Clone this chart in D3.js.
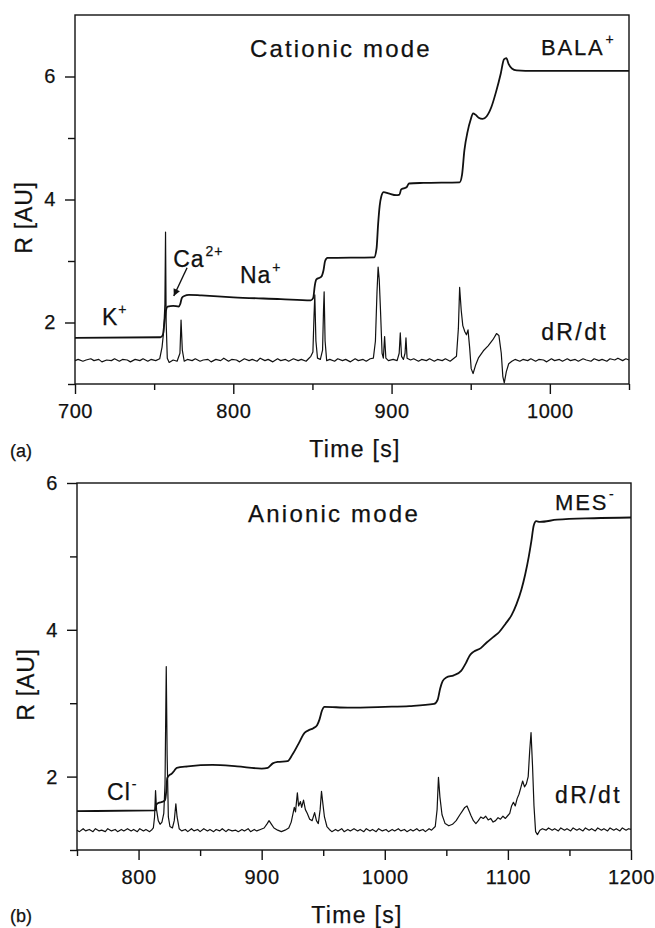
<!DOCTYPE html>
<html>
<head>
<meta charset="utf-8">
<script src="https://cdn.jsdelivr.net/npm/d3@7"></script>
<style>
  body { margin: 0; background: #fff; }
  svg { display: block; }
  text { font-family: "Liberation Sans", Arial, Helvetica, sans-serif; fill: #111; stroke: #111; stroke-width: 0.25px; }
</style>
</head>
<body>
<svg id="chart" width="655" height="928"></svg>
<script>
"use strict";

// ---- panel (a): cationic mode, [time s, R AU] ----
const cationR = [
  [700, 1.75], [754, 1.76], [755.5, 1.8], [756.5, 2.0], [757.5, 2.2], [758.5, 2.26], [762, 2.27], [765.5, 2.26],
  [766.5, 2.3], [767.5, 2.4], [769, 2.43], [772, 2.45], [780, 2.44], [800, 2.41], [830, 2.38], [849, 2.36],
  [850.5, 2.4], [851.5, 2.6], [852.5, 2.7], [855.5, 2.74], [857, 2.85], [858, 3.0], [859.5, 3.05], [889, 3.06],
  [890.5, 3.2], [891.5, 3.6], [892.5, 3.9], [893.5, 4.05], [895, 4.12], [898, 4.1], [903, 4.07], [905, 4.08],
  [906, 4.16], [907.5, 4.18], [909.5, 4.2], [911, 4.26], [920, 4.27], [943, 4.28], [944.5, 4.4], [946, 4.8],
  [948, 5.1], [950, 5.3], [951.5, 5.4], [953, 5.38], [955, 5.33], [957.5, 5.31], [960, 5.35], [963, 5.5],
  [966, 5.75], [969, 6.05], [971, 6.28], [972.5, 6.3], [974, 6.2], [976, 6.13], [979, 6.1], [990, 6.09], [1050, 6.09]
];

const cationDR = [
  [700, 1.38], [702, 1.40], [705, 1.37], [707, 1.39], [710, 1.41], [712, 1.38], [715, 1.40], [717, 1.36], [720, 1.39],
  [723, 1.38], [725, 1.41], [728, 1.37], [730, 1.40], [733, 1.39], [735, 1.36], [738, 1.40], [741, 1.38], [743, 1.41],
  [746, 1.37], [748, 1.40], [751, 1.38], [753.5, 1.41], [755, 1.6], [756, 1.85], [756.8, 2.3], [757.2, 3.47],
  [757.6, 2.0], [758.3, 1.42], [759.5, 1.35], [762, 1.39], [764.5, 1.37], [766.3, 1.5], [767, 2.04], [767.8, 1.55],
  [769, 1.37], [771, 1.40], [774, 1.38], [776, 1.41], [779, 1.37], [781, 1.39], [784, 1.40], [786, 1.36], [789, 1.40],
  [792, 1.38], [794, 1.42], [797, 1.37], [799, 1.40], [802, 1.39], [804, 1.36], [807, 1.41], [810, 1.38], [812, 1.40],
  [815, 1.37], [817, 1.42], [820, 1.38], [822, 1.40], [825, 1.36], [828, 1.41], [830, 1.38], [833, 1.40], [835, 1.37],
  [838, 1.41], [841, 1.38], [843, 1.40], [846, 1.37], [847.5, 1.41], [849, 1.45], [850.3, 1.52], [851, 2.1],
  [851.5, 2.45], [852.2, 1.7], [853.2, 1.42], [855, 1.4], [856.4, 1.55], [857, 2.2], [857.4, 2.5], [858, 1.7],
  [859, 1.38], [861, 1.40], [864, 1.37], [866, 1.41], [869, 1.38], [871, 1.40], [874, 1.36], [877, 1.41], [879, 1.38],
  [882, 1.40], [884, 1.37], [886.5, 1.41], [888.5, 1.42], [889.8, 1.7], [890.8, 2.5], [891.5, 2.9], [892.2, 2.7],
  [893, 2.2], [894, 1.5], [894.8, 1.42], [895.6, 1.77], [896.4, 1.42], [898, 1.38], [901, 1.40], [903.5, 1.38],
  [904.8, 1.5], [905.5, 1.83], [906.3, 1.45], [907.5, 1.40], [908.5, 1.5], [909.1, 1.75], [909.8, 1.42], [912, 1.39],
  [914, 1.41], [917, 1.37], [919, 1.40], [922, 1.38], [924, 1.41], [927, 1.37], [929, 1.40], [932, 1.38], [934, 1.41],
  [937, 1.37], [939, 1.41], [941, 1.45], [942.2, 1.9], [943, 2.57], [944, 2.2], [945, 1.95], [946.3, 1.85],
  [947.3, 1.8], [948.3, 1.88], [949.3, 1.6], [950.3, 1.25], [951.5, 1.17], [953, 1.3], [955, 1.43], [958, 1.54],
  [961, 1.62], [964, 1.72], [966.3, 1.82], [967.8, 1.79], [969.3, 1.5], [970.3, 1.12], [971.2, 1.02], [972.5, 1.2],
  [974, 1.33], [976, 1.37], [978, 1.40], [981, 1.37], [983, 1.40], [986, 1.38], [988, 1.41], [991, 1.37], [993, 1.40],
  [996, 1.39], [998, 1.36], [1001, 1.41], [1003, 1.38], [1006, 1.40], [1008, 1.37], [1011, 1.41], [1013, 1.38],
  [1016, 1.40], [1018, 1.37], [1021, 1.41], [1023, 1.39], [1026, 1.37], [1028, 1.41], [1031, 1.38], [1033, 1.40],
  [1036, 1.37], [1038, 1.41], [1041, 1.39], [1043, 1.42], [1046, 1.38], [1048, 1.41], [1050, 1.39]
];

// ---- panel (b): anionic mode ----
const anionR = [
  [750, 1.53], [813.5, 1.54], [814.5, 1.62], [816, 1.64], [820, 1.66], [821.5, 1.68], [822.5, 1.8], [823.3, 1.98],
  [825, 2.02], [827, 2.04], [829, 2.08], [831, 2.12], [840, 2.14], [860, 2.16], [880, 2.14], [900, 2.11], [905, 2.12],
  [909, 2.18], [913, 2.2], [921, 2.21], [925, 2.3], [930, 2.45], [935, 2.6], [938, 2.63], [942, 2.66], [945, 2.7],
  [947, 2.78], [949, 2.9], [951, 2.95], [970, 2.94], [1000, 2.95], [1020, 2.96], [1040, 2.99], [1043, 3.05],
  [1045, 3.2], [1047, 3.3], [1050, 3.35], [1056, 3.38], [1062, 3.44], [1066, 3.55], [1069, 3.65], [1072, 3.7],
  [1078, 3.75], [1083, 3.83], [1088, 3.9], [1093, 3.97], [1098, 4.08], [1103, 4.2], [1107, 4.35], [1111, 4.55],
  [1114, 4.75], [1117, 5.0], [1119, 5.2], [1121, 5.42], [1123, 5.48], [1126, 5.47], [1140, 5.5], [1170, 5.52],
  [1200, 5.53]
];

const anionDR = [
  [750, 1.27], [752, 1.25], [755, 1.29], [757, 1.26], [760, 1.28], [763, 1.25], [765, 1.29], [768, 1.26], [770, 1.27],
  [773, 1.25], [775, 1.29], [778, 1.26], [781, 1.28], [783, 1.25], [786, 1.28], [788, 1.26], [791, 1.29], [794, 1.26],
  [796, 1.28], [799, 1.25], [801, 1.29], [804, 1.26], [806, 1.28], [809, 1.25], [811, 1.28], [812, 1.3], [813, 1.45],
  [813.8, 1.81], [814.6, 1.55], [816, 1.4], [817.5, 1.35], [819, 1.38], [820.5, 1.5], [821.5, 1.9], [822.5, 3.5],
  [823.2, 2.3], [824.2, 1.45], [825.5, 1.32], [827.5, 1.3], [829, 1.4], [830.3, 1.63], [831.3, 1.45], [833, 1.29],
  [835, 1.26], [838, 1.28], [840, 1.25], [843, 1.29], [845, 1.26], [848, 1.28], [850, 1.25], [853, 1.29], [856, 1.26],
  [858, 1.28], [861, 1.25], [863, 1.28], [866, 1.26], [868, 1.29], [871, 1.25], [873, 1.28], [876, 1.26], [879, 1.27],
  [881, 1.25], [884, 1.28], [886, 1.26], [889, 1.29], [891, 1.25], [894, 1.28], [896, 1.26], [899, 1.28], [902, 1.3],
  [904.5, 1.36], [906, 1.4], [908, 1.35], [910, 1.3], [913, 1.27], [916, 1.25], [919, 1.27], [922, 1.3], [924, 1.38],
  [925.5, 1.5], [926.5, 1.58], [927.5, 1.52], [929, 1.78], [930, 1.6], [931.5, 1.66], [932.5, 1.58], [934, 1.68],
  [935.5, 1.55], [937, 1.5], [939, 1.42], [941, 1.4], [943, 1.51], [944.5, 1.4], [946, 1.36], [947.5, 1.55],
  [948.6, 1.8], [949.8, 1.62], [951, 1.45], [953, 1.32], [955, 1.28], [957, 1.25], [960, 1.28], [962, 1.26],
  [965, 1.29], [967, 1.25], [970, 1.28], [972, 1.26], [975, 1.29], [978, 1.26], [980, 1.28], [983, 1.25], [985, 1.29],
  [988, 1.26], [990, 1.28], [993, 1.25], [995, 1.29], [998, 1.26], [1001, 1.28], [1003, 1.25], [1006, 1.28],
  [1008, 1.26], [1011, 1.29], [1013, 1.26], [1016, 1.28], [1018, 1.25], [1021, 1.28], [1023, 1.26], [1026, 1.29],
  [1028, 1.26], [1031, 1.28], [1033, 1.25], [1036, 1.29], [1038, 1.27], [1041, 1.32], [1042.5, 1.55], [1043.6, 1.99],
  [1044.8, 1.72], [1046.5, 1.48], [1049, 1.36], [1052, 1.33], [1055, 1.35], [1058, 1.4], [1061, 1.48], [1063, 1.53],
  [1065, 1.58], [1066.8, 1.6], [1068.5, 1.53], [1070, 1.47], [1072, 1.4], [1074, 1.36], [1076, 1.4], [1078, 1.45],
  [1080, 1.43], [1082, 1.46], [1084, 1.41], [1086, 1.43], [1088, 1.38], [1090, 1.4], [1092, 1.44], [1094, 1.42],
  [1096, 1.46], [1098, 1.43], [1100, 1.47], [1101.5, 1.5], [1103, 1.6], [1104.5, 1.65], [1106, 1.6], [1107.5, 1.7],
  [1109, 1.76], [1110.5, 1.85], [1112, 1.94], [1113.5, 1.86], [1115, 1.9], [1116.5, 2.0], [1117.7, 2.35],
  [1118.8, 2.6], [1120, 2.15], [1121.2, 1.6], [1122.5, 1.25], [1124, 1.21], [1126, 1.27], [1128, 1.29], [1131, 1.27],
  [1133, 1.3], [1136, 1.27], [1138, 1.29], [1141, 1.26], [1143, 1.3], [1146, 1.27], [1148, 1.29], [1151, 1.26],
  [1153, 1.3], [1156, 1.27], [1158, 1.29], [1161, 1.26], [1163, 1.3], [1166, 1.27], [1168, 1.29], [1171, 1.26],
  [1173, 1.3], [1176, 1.27], [1178, 1.29], [1181, 1.26], [1183, 1.3], [1186, 1.27], [1188, 1.29], [1191, 1.26],
  [1193, 1.3], [1196, 1.27], [1198, 1.29], [1200, 1.28]
];

// ticks
const cationXMajor = [700, 800, 900, 1000];
const cationXMinor = [750, 850, 950, 1050];
const cationYMajor = [2, 4, 6];
const cationYMinor = [1, 3, 5];
const anionXMajor = [800, 900, 1000, 1100, 1200];
const anionXMinor = [750, 850, 950, 1050, 1150];
const anionYMajor = [2, 4, 6];
const anionYMinor = [1, 3, 5];

const svg = d3.select("#chart");

svg.append("defs").append("marker")
    .attr("id", "arrowhead")
    .attr("viewBox", "0 0 10 10")
    .attr("refX", 10).attr("refY", 5)
    .attr("markerWidth", 9).attr("markerHeight", 7)
    .attr("markerUnits", "userSpaceOnUse")
    .attr("orient", "auto")
    .append("path")
    .attr("d", "M0,0 L10,5 L0,10 z")
    .attr("fill", "#111");

function styleAxis(g) {
    g.select(".domain").remove();
    g.selectAll(".tick line").attr("stroke", "#111").attr("stroke-width", 1.4);
    g.selectAll(".tick text")
        .attr("font-size", 20)
        .attr("fill", "#111")
        .style("font-family", "'Liberation Sans', Arial, sans-serif")
        .style("letter-spacing", "0.6px");
}

function addLabel(g, x, y, lbl) {
    const t = g.append("text")
        .attr("x", x(lbl.at[0]))
        .attr("y", y(lbl.at[1]))
        .attr("font-size", lbl.size)
        .style("letter-spacing", lbl.spacing + "px")
        .text(lbl.text);
    if (lbl.sup) {
        t.append("tspan")
            .attr("font-size", 14)
            .attr("dy", -11)
            .attr("dx", 1)
            .text(lbl.sup);
    }
}

function drawPanel(p) {
    const x = d3.scaleLinear().domain(p.xDomain).range(p.xRange);
    const y = d3.scaleLinear().domain(p.yDomain).range(p.yRange);
    const g = svg.append("g");

    // frame box
    g.append("rect")
        .attr("x", p.xRange[0])
        .attr("y", p.yRange[1])
        .attr("width", p.xRange[1] - p.xRange[0])
        .attr("height", p.yRange[0] - p.yRange[1])
        .attr("fill", "none")
        .attr("stroke", "#111")
        .attr("stroke-width", 1.4);

    // y axis (major + minor)
    g.append("g")
        .attr("transform", `translate(${p.xRange[0]},0)`)
        .call(d3.axisLeft(y).tickValues(p.yMajor).tickSize(10).tickPadding(9).tickFormat(d3.format("d")))
        .call(styleAxis);
    g.append("g")
        .attr("transform", `translate(${p.xRange[0]},0)`)
        .call(d3.axisLeft(y).tickValues(p.yMinor).tickSize(7).tickFormat(""))
        .call(styleAxis);

    // x axis (major + minor)
    g.append("g")
        .attr("transform", `translate(0,${p.yRange[0]})`)
        .call(d3.axisBottom(x).tickValues(p.xMajor).tickSize(10).tickPadding(10).tickFormat(d3.format("d")))
        .call(styleAxis);
    g.append("g")
        .attr("transform", `translate(0,${p.yRange[0]})`)
        .call(d3.axisBottom(x).tickValues(p.xMinor).tickSize(6).tickFormat(""))
        .call(styleAxis);

    // curves
    const smooth = d3.line().x(d => x(d[0])).y(d => y(d[1])).curve(d3.curveMonotoneX);
    const sharp = d3.line().x(d => x(d[0])).y(d => y(d[1]));

    g.append("path")
        .datum(p.deriv)
        .attr("d", sharp)
        .attr("fill", "none")
        .attr("stroke", "#111")
        .attr("stroke-width", 1.2)
        .attr("stroke-linejoin", "round");

    g.append("path")
        .datum(p.signal)
        .attr("d", smooth)
        .attr("fill", "none")
        .attr("stroke", "#111")
        .attr("stroke-width", 1.8)
        .attr("stroke-linejoin", "round");

    // titles
    const midX = (p.xRange[0] + p.xRange[1]) / 2;
    g.append("text")
        .attr("x", midX + 3)
        .attr("y", p.yRange[0] + 73)
        .attr("text-anchor", "middle")
        .attr("font-size", 23)
        .style("letter-spacing", "1.3px")
        .text("Time [s]");
    g.append("text")
        .attr("transform", `translate(${p.xRange[0] - 43},${(p.yRange[0] + p.yRange[1]) / 2 + p.yTitleShift}) rotate(-90)`)
        .attr("text-anchor", "middle")
        .attr("font-size", 23)
        .style("letter-spacing", "0.8px")
        .text("R [AU]");
    g.append("text")
        .attr("x", 10)
        .attr("y", p.yRange[0] + p.tagDy)
        .attr("font-size", 18)
        .text(p.tag);

    p.labels.forEach(lbl => addLabel(g, x, y, lbl));

    if (p.arrow) {
        g.append("line")
            .attr("x1", x(p.arrow[0][0])).attr("y1", y(p.arrow[0][1]))
            .attr("x2", x(p.arrow[1][0])).attr("y2", y(p.arrow[1][1]))
            .attr("stroke", "#111")
            .attr("stroke-width", 1.4)
            .attr("marker-end", "url(#arrowhead)");
    }
}

drawPanel({
    xDomain: [700, 1050], xRange: [75, 629],
    yDomain: [1, 7], yRange: [384, 15],
    xMajor: cationXMajor, xMinor: cationXMinor,
    yMajor: cationYMajor, yMinor: cationYMinor,
    signal: cationR, deriv: cationDR,
    tag: "(a)", tagDy: 73, yTitleShift: 18,
    labels: [
        { text: "Cationic mode", at: [810.5, 6.32], size: 24, spacing: 2.2 },
        { text: "BALA", sup: "+", at: [994.4, 6.35], size: 22, spacing: 1.8 },
        { text: "dR/dt", at: [994.5, 1.715], size: 23, spacing: 2.4 },
        { text: "K", sup: "+", at: [717, 1.96], size: 23, spacing: 0 },
        { text: "Ca", sup: "2+", at: [762, 2.9], size: 23, spacing: 1 },
        { text: "Na", sup: "+", at: [804.2, 2.64], size: 23, spacing: 1 }
    ],
    arrow: [[770.8, 2.89], [762.4, 2.43]]
});

drawPanel({
    xDomain: [750, 1200], xRange: [77, 631],
    yDomain: [1, 6], yRange: [850, 483],
    xMajor: anionXMajor, xMinor: anionXMinor,
    yMajor: anionYMajor, yMinor: anionYMinor,
    signal: anionR, deriv: anionDR,
    tag: "(b)", tagDy: 72, yTitleShift: 18,
    labels: [
        { text: "Anionic mode", at: [889, 5.47], size: 24, spacing: 2.2 },
        { text: "MES", sup: "-", at: [1138.3, 5.63], size: 22, spacing: 1.8 },
        { text: "dR/dt", at: [1138.3, 1.64], size: 23, spacing: 2.4 },
        { text: "Cl", sup: "-", at: [774.4, 1.68], size: 23, spacing: 1 }
    ]
});
</script>
</body>
</html>
